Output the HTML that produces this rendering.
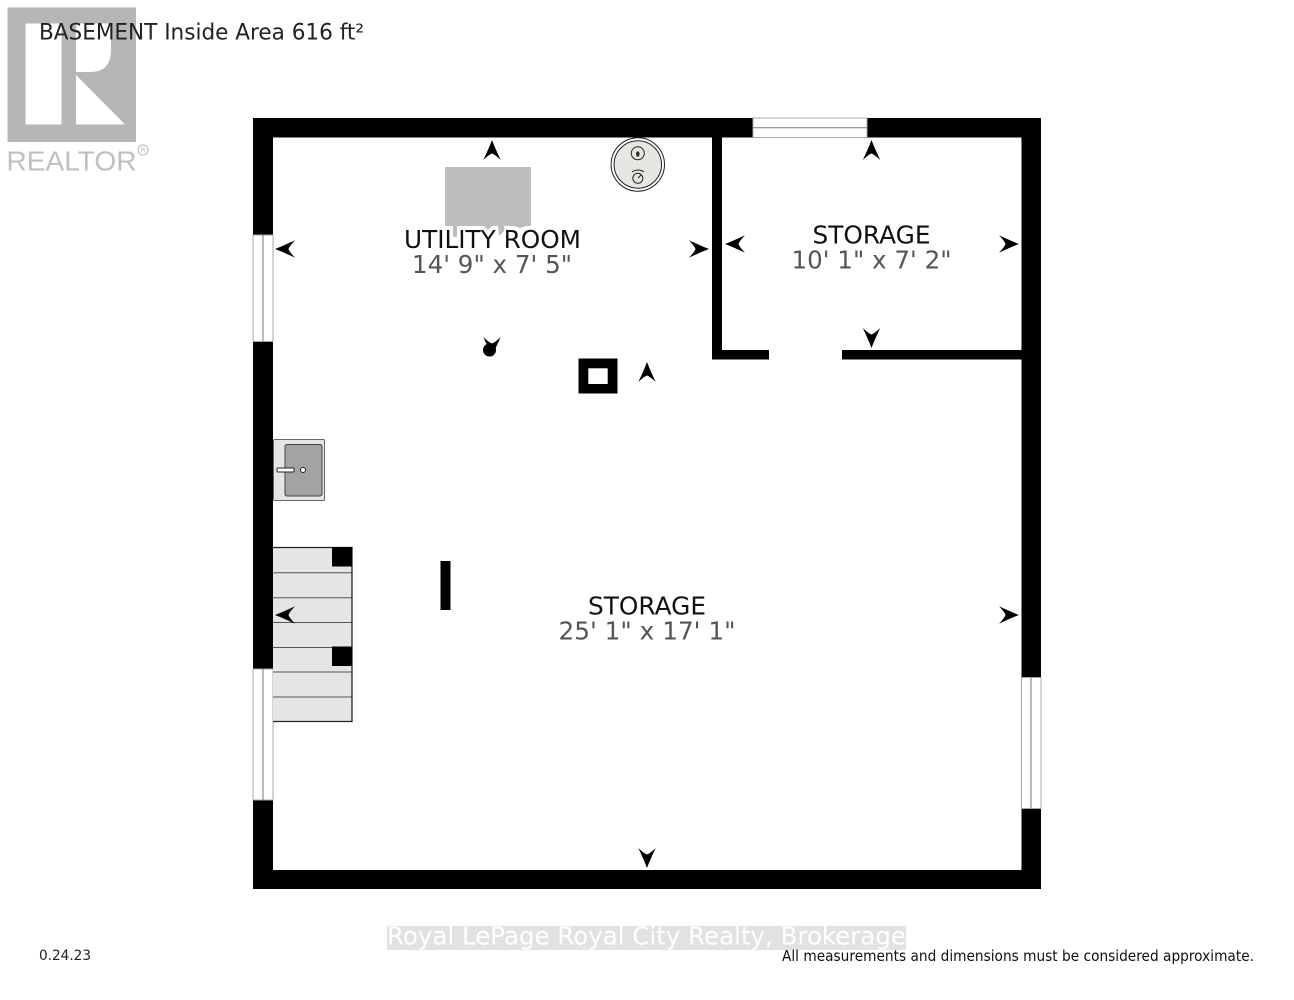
<!DOCTYPE html>
<html><head><meta charset="utf-8"><style>
html,body{margin:0;padding:0;background:#fff;width:1294px;height:1000px;overflow:hidden}
svg{display:block}
text{font-family:"DejaVu Sans",sans-serif}
</style></head><body>
<svg width="1294" height="1000" viewBox="0 0 1294 1000" xmlns="http://www.w3.org/2000/svg">
<defs><path id="a" d="M0,-10 Q3,-2 8.7,10 Q3,4.5 0,3.5 Q-3,4.5 -8.7,10 Q-3,-2 0,-10 Z"/></defs>
<rect width="1294" height="1000" fill="#fff"/>
<!-- logo -->
<rect x="7.5" y="7.5" width="128.5" height="134.5" fill="#b6b6b6"/>
<rect x="25.5" y="23.5" width="36" height="101" fill="#fff"/>
<path d="M76,23.5 H111 V50 Q111,72 90,72 H76 Z" fill="#fff"/>
<path d="M76,75 L125,124.5 H76 Z" fill="#fff"/>
<text x="6.5" y="170.5" font-size="28" fill="#c0c0c0" style="font-family:'Liberation Sans',sans-serif" textLength="130" lengthAdjust="spacingAndGlyphs">REALTOR</text>
<circle cx="143" cy="150" r="5" fill="none" stroke="#c4c4c4" stroke-width="1.3"/>
<text x="143" y="152.5" font-size="7" fill="#bbb" text-anchor="middle">R</text>
<text x="39" y="39.5" font-size="22" fill="#222" textLength="325" lengthAdjust="spacingAndGlyphs">BASEMENT Inside Area 616 ft²</text>
<!-- walls -->
<path fill="#000" fill-rule="evenodd" d="M253,118 H1041 V889 H253 Z M273,137.5 V870 H1021.5 V137.5 Z"/>
<rect x="712" y="137" width="10" height="222" fill="#000"/>
<rect x="712" y="350" width="57" height="9.5" fill="#000"/>
<rect x="842" y="350" width="180" height="9.5" fill="#000"/>
<!-- windows -->
<g fill="#fff" stroke="#a8a8a8" stroke-width="1">
<rect x="753" y="118" width="114" height="19.5"/><path d="M753,127.7 H867" fill="none" stroke="#777"/>
<rect x="253" y="235" width="20" height="106.5"/><path d="M263,235 V341.5" fill="none" stroke="#777"/>
<rect x="253" y="669" width="20" height="131"/><path d="M263,669 V800" fill="none" stroke="#777"/>
<rect x="1021.5" y="677.5" width="19.5" height="131"/><path d="M1031,677.5 V808.5" fill="none" stroke="#777"/>
</g>
<!-- furnace -->
<rect x="445" y="167" width="86" height="59" fill="#bdbdbd"/>
<path d="M453,226 H457 V237 H453 Z M484,226 H492 L488,230 Z M498,226 H504 V231 L499,236 Z M514,226 H526 L520,228 Z" fill="#bdbdbd"/>
<!-- water heater -->
<circle cx="637.8" cy="164.5" r="26.7" fill="#fff" stroke="#222" stroke-width="1"/>
<circle cx="637.8" cy="164.5" r="23.7" fill="#e6e6e3" stroke="#222" stroke-width="1"/>
<circle cx="637.8" cy="153.3" r="6.5" fill="none" stroke="#222" stroke-width="1"/>
<ellipse cx="637.8" cy="154" rx="1.8" ry="2.8" fill="#333"/>
<circle cx="637.8" cy="178.3" r="5" fill="none" stroke="#222" stroke-width="1"/>
<path d="M632,172 Q638,168 644,172 M638,178 L641,175" fill="none" stroke="#222" stroke-width="1"/>
<!-- labels -->
<g text-anchor="middle" font-size="25">
<text x="492.5" y="248" fill="#111" textLength="177" lengthAdjust="spacingAndGlyphs">UTILITY ROOM</text>
<text x="492" y="273" fill="#555" textLength="160" lengthAdjust="spacingAndGlyphs">14' 9" x 7' 5"</text>
<text x="871.5" y="243.5" fill="#111" textLength="118" lengthAdjust="spacingAndGlyphs">STORAGE</text>
<text x="871.5" y="268.5" fill="#555" textLength="160" lengthAdjust="spacingAndGlyphs">10' 1" x 7' 2"</text>
<text x="647" y="614.5" fill="#111" textLength="118" lengthAdjust="spacingAndGlyphs">STORAGE</text>
<text x="647" y="639.5" fill="#555" textLength="177" lengthAdjust="spacingAndGlyphs">25' 1" x 17' 1"</text>
</g>
<!-- column -->
<rect x="578.5" y="358.5" width="39" height="35" fill="#000"/>
<rect x="588.3" y="368.3" width="19.4" height="15.7" fill="#fff"/>
<!-- drain -->
<circle cx="489.5" cy="350" r="6.5" fill="#000"/>
<!-- post -->
<rect x="440.5" y="561" width="10" height="49" fill="#000"/>
<!-- sink -->
<rect x="273.5" y="439.5" width="51" height="61" rx="1" fill="#e4e5e4" stroke="#666" stroke-width="1"/>
<rect x="285" y="444.5" width="37" height="51.5" rx="2" fill="#a3a3a5" stroke="#444" stroke-width="1"/>
<rect x="277" y="468" width="17" height="4" rx="1" fill="#fff" stroke="#222" stroke-width="1"/>
<circle cx="303" cy="470" r="2.5" fill="#fff" stroke="#222" stroke-width="1"/>
<!-- stairs -->
<rect x="273" y="547.5" width="79" height="174" fill="#e4e5e4"/>
<path d="M273,572.7 H352 M273,597.7 H352 M273,622.5 H352 M273,647.5 H352 M273,672 H352 M273,697 H352" fill="none" stroke="#555" stroke-width="1"/>
<path d="M273,547.5 H352 V721.5 H273" fill="none" stroke="#222" stroke-width="1.3"/>
<rect x="332" y="547" width="20" height="19.5" fill="#000"/>
<rect x="332" y="646.5" width="20" height="19.5" fill="#000"/>
<!-- arrows -->
<g fill="#000">
<use href="#a" transform="translate(492,150)"/>
<use href="#a" transform="translate(871.5,150)"/>
<use href="#a" transform="translate(647,372)"/>
<use href="#a" transform="translate(285,249) rotate(-90)"/>
<use href="#a" transform="translate(735,244) rotate(-90)"/>
<use href="#a" transform="translate(285,615) rotate(-90)"/>
<use href="#a" transform="translate(699,249) rotate(90)"/>
<use href="#a" transform="translate(1009,244) rotate(90)"/>
<use href="#a" transform="translate(1009,615) rotate(90)"/>
<use href="#a" transform="translate(871.5,338) rotate(180)"/>
<use href="#a" transform="translate(647,858) rotate(180)"/>
<use href="#a" transform="translate(492,347) rotate(180)"/>
</g>
<!-- footer -->
<text x="39" y="960" font-size="14" fill="#222" textLength="52" lengthAdjust="spacingAndGlyphs">0.24.23</text>
<rect x="387" y="926" width="519" height="24" fill="#e2e2e2"/>
<text x="387" y="944.5" font-size="25" fill="#fff" textLength="519" lengthAdjust="spacingAndGlyphs">Royal LePage Royal City Realty, Brokerage</text>
<text x="782" y="961" font-size="15" fill="#111" textLength="472" lengthAdjust="spacingAndGlyphs">All measurements and dimensions must be considered approximate.</text>
</svg>
</body></html>
